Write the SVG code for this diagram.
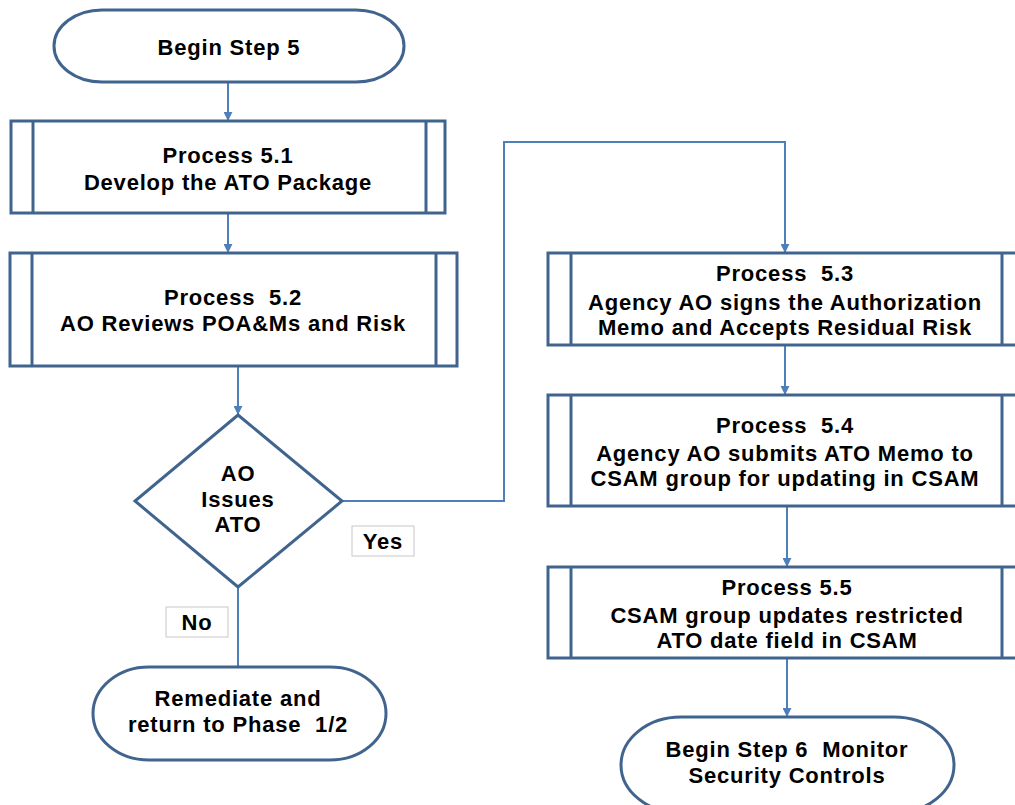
<svg xmlns="http://www.w3.org/2000/svg" width="1015" height="805" viewBox="0 0 1015 805">
<style>
.node{fill:#fff;stroke:#41648f;stroke-width:3}
.inner{stroke:#41648f;stroke-width:3}
.conn{fill:none;stroke:#4f7fbb;stroke-width:2}
.lbl{fill:#fff;stroke:#c8c8c8;stroke-width:1}
text{font-family:"Liberation Sans",Arial,sans-serif;font-weight:bold;font-size:22px;letter-spacing:0.8px;fill:#000;text-anchor:middle;white-space:pre}
</style>
<defs>
<marker id="arr" viewBox="0 0 10 10" refX="9" refY="5" markerWidth="4.5" markerHeight="4.5" orient="auto" markerUnits="strokeWidth">
<path d="M0,0 L10,5 L0,10 z" fill="#4f7fbb"/>
</marker>
</defs>
<rect width="1015" height="805" fill="#fff"/>
<g id="connectors">
<line class="conn" x1="228" y1="82" x2="228" y2="120" marker-end="url(#arr)"/>
<line class="conn" x1="228" y1="213" x2="228" y2="252" marker-end="url(#arr)"/>
<line class="conn" x1="238" y1="366" x2="238" y2="414" marker-end="url(#arr)"/>
<polyline class="conn" points="342,501 504,501 504,142 785,142 785,252" marker-end="url(#arr)"/>
<line class="conn" x1="785" y1="345" x2="785" y2="394" marker-end="url(#arr)"/>
<line class="conn" x1="787" y1="506" x2="787" y2="566" marker-end="url(#arr)"/>
<line class="conn" x1="787" y1="658" x2="787" y2="716" marker-end="url(#arr)"/>
<line class="conn" x1="238" y1="587" x2="238" y2="667"/>
</g>
<g id="begin5">
<rect class="node" x="54" y="10" width="350" height="72" rx="48" ry="36"/>
<text x="229" y="55">Begin Step 5</text>
</g>
<g id="p51">
<rect class="node" x="11" y="121" width="434" height="92"/>
<line class="inner" x1="33" y1="121" x2="33" y2="213"/>
<line class="inner" x1="426" y1="121" x2="426" y2="213"/>
<text x="228" y="163">Process 5.1</text>
<text x="228" y="190">Develop the ATO Package</text>
</g>
<g id="p52">
<rect class="node" x="10" y="253" width="447" height="113"/>
<line class="inner" x1="32" y1="253" x2="32" y2="366"/>
<line class="inner" x1="436" y1="253" x2="436" y2="366"/>
<text x="233" y="305">Process  5.2</text>
<text x="233" y="331">AO Reviews POA&amp;Ms and Risk</text>
</g>
<g id="decision">
<polygon class="node" points="238,415 342,501 238,587 135,501"/>
<text x="238" y="481">AO</text>
<text x="238" y="507">Issues</text>
<text x="238" y="532">ATO</text>
</g>
<g id="yes">
<rect class="lbl" x="352" y="526" width="62" height="30"/>
<text x="383" y="549">Yes</text>
</g>
<g id="no">
<rect class="lbl" x="166" y="607" width="62" height="30"/>
<text x="197" y="630">No</text>
</g>
<g id="remediate">
<rect class="node" x="93" y="667" width="293" height="93" rx="56" ry="46.5"/>
<text x="238" y="706">Remediate and</text>
<text x="238" y="732">return to Phase  1/2</text>
</g>
<g id="p53">
<rect class="node" x="548" y="253" width="480" height="92"/>
<line class="inner" x1="571" y1="253" x2="571" y2="345"/>
<line class="inner" x1="1002" y1="253" x2="1002" y2="345"/>
<text x="785" y="281">Process  5.3</text>
<text x="785" y="310">Agency AO signs the Authorization</text>
<text x="785" y="335">Memo and Accepts Residual Risk</text>
</g>
<g id="p54">
<rect class="node" x="548" y="395" width="480" height="111"/>
<line class="inner" x1="571" y1="395" x2="571" y2="506"/>
<line class="inner" x1="1002" y1="395" x2="1002" y2="506"/>
<text x="785" y="433">Process  5.4</text>
<text x="785" y="461">Agency AO submits ATO Memo to</text>
<text x="785" y="486">CSAM group for updating in CSAM</text>
</g>
<g id="p55">
<rect class="node" x="548" y="567" width="480" height="91"/>
<line class="inner" x1="571" y1="567" x2="571" y2="658"/>
<line class="inner" x1="1002" y1="567" x2="1002" y2="658"/>
<text x="787" y="595">Process 5.5</text>
<text x="787" y="623">CSAM group updates restricted</text>
<text x="787" y="648">ATO date field in CSAM</text>
</g>
<g id="begin6">
<rect class="node" x="621" y="717" width="333" height="96" rx="60" ry="48"/>
<text x="787" y="757">Begin Step 6  Monitor</text>
<text x="787" y="783">Security Controls</text>
</g>
</svg>
